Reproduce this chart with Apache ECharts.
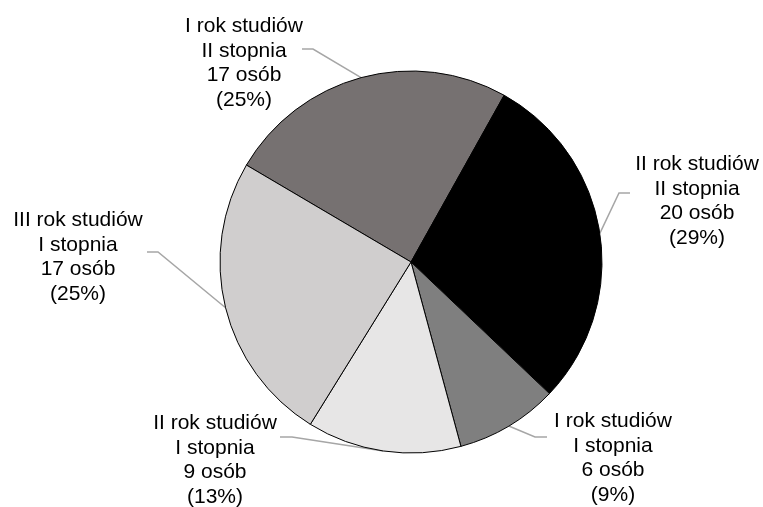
<!DOCTYPE html>
<html>
<head>
<meta charset="utf-8">
<script src="https://cdn.jsdelivr.net/npm/echarts@6/dist/echarts.min.js"></script>
<style>
  html, body { margin: 0; padding: 0; background: #ffffff; }
  #chart { width: 763px; height: 507px; }
</style>
</head>
<body>
<div id="chart"></div>
<script>
// Studenci według roku i stopnia studiów
const categories = [
  'I rok studiów\nII stopnia',
  'II rok studiów\nII stopnia',
  'I rok studiów\nI stopnia',
  'II rok studiów\nI stopnia',
  'III rok studiów\nI stopnia'
];
const counts = [17, 20, 6, 9, 17];
const sliceColors = ['#767171', '#000000', '#7f7f7f', '#e7e6e6', '#d0cece'];

// Label placement: text centre, leader-line elbow and leader-line end
const labelSpots = [
  { x: 244, y: 63,  elbow: [313, 49],  end: [302, 49] },
  { x: 697, y: 201, elbow: [619, 193], end: [630, 193] },
  { x: 613, y: 458, elbow: [535, 437], end: [547, 437] },
  { x: 215, y: 460, elbow: [292, 437], end: [280, 437] },
  { x: 78,  y: 257, elbow: [158, 252], end: [147, 252] }
];

const chart = echarts.init(document.getElementById('chart'), null, { renderer: 'canvas' });

chart.setOption({
  backgroundColor: '#ffffff',
  animation: false,
  series: [{
    type: 'pie',
    center: [411, 262],
    radius: 191,
    startAngle: 149.5,
    clockwise: true,
    avoidLabelOverlap: false,
    silent: true,
    data: categories.map((name, i) => ({
      name: name,
      value: counts[i],
      itemStyle: { color: sliceColors[i] }
    })),
    itemStyle: { borderColor: '#000000', borderWidth: 1 },
    label: {
      show: true,
      position: 'outside',
      color: '#000000',
      fontFamily: '"Liberation Sans", Arial, sans-serif',
      fontSize: 21,
      lineHeight: 24.5,
      align: 'center',
      formatter: p => p.name + '\n' + p.value + ' osób\n(' + Math.round(p.percent) + '%)'
    },
    labelLine: {
      show: true,
      length: 20,
      length2: 10,
      lineStyle: { color: '#a6a6a6', width: 1.5 }
    },
    labelLayout: function (params) {
      const spot = labelSpots[params.dataIndex];
      const start = params.labelLinePoints ? params.labelLinePoints[0] : spot.elbow;
      return {
        x: spot.x,
        y: spot.y,
        align: 'center',
        verticalAlign: 'middle',
        labelLinePoints: [start, spot.elbow, spot.end]
      };
    },
    emphasis: { disabled: true }
  }]
});
</script>
</body>
</html>
